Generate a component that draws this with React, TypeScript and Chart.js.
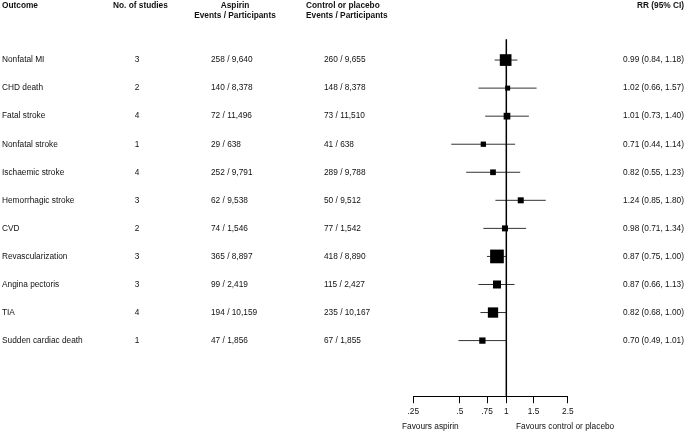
import React, { useEffect, useRef } from "react";
import { Chart, registerables } from "chart.js";

Chart.register(...registerables);

// ---------- data ----------
const outcomes = [
  "Nonfatal MI",
  "CHD death",
  "Fatal stroke",
  "Nonfatal stroke",
  "Ischaemic stroke",
  "Hemorrhagic stroke",
  "CVD",
  "Revascularization",
  "Angina pectoris",
  "TIA",
  "Sudden cardiac death",
];
const studies = [3, 2, 4, 1, 4, 3, 2, 3, 3, 4, 1];
const aspirinEvents = [
  "258 / 9,640",
  "140 / 8,378",
  "72 / 11,496",
  "29 / 638",
  "252 / 9,791",
  "62 / 9,538",
  "74 / 1,546",
  "365 / 8,897",
  "99 / 2,419",
  "194 / 10,159",
  "47 / 1,856",
];
const controlEvents = [
  "260 / 9,655",
  "148 / 8,378",
  "73 / 11,510",
  "41 / 638",
  "289 / 9,788",
  "50 / 9,512",
  "77 / 1,542",
  "418 / 8,890",
  "115 / 2,427",
  "235 / 10,167",
  "67 / 1,855",
];
const rr = [0.99, 1.02, 1.01, 0.71, 0.82, 1.24, 0.98, 0.87, 0.87, 0.82, 0.7];
const ciLow = [0.84, 0.66, 0.73, 0.44, 0.55, 0.85, 0.71, 0.75, 0.66, 0.68, 0.49];
const ciHigh = [1.18, 1.57, 1.4, 1.14, 1.23, 1.8, 1.34, 1.0, 1.13, 1.0, 1.01];
// relative study weights (drive square marker size)
const weights = [11.7, 5.0, 6.7, 5.3, 5.7, 6.0, 6.0, 13.7, 8.0, 10.3, 6.3];

const xTicks = [0.25, 0.5, 0.75, 1, 1.5, 2.5];
const xTickLabels = [".25", ".5", ".75", "1", "1.5", "2.5"];

const headerOutcome = "Outcome";
const headerStudies = "No. of studies";
const headerAspirin = ["Aspirin", "Events / Participants"];
const headerControl = ["Control or placebo", "Events / Participants"];
const headerRR = "RR (95% CI)";
const favoursLeft = "Favours aspirin";
const favoursRight = "Favours control or placebo";

// ---------- component ----------
export default function App() {
  const ref = useRef<HTMLCanvasElement | null>(null);

  useEffect(() => {
    document.body.style.margin = "0";
    const canvas = ref.current;
    if (!canvas) return;

    const FAMILY = '"Liberation Sans", Arial, Helvetica, sans-serif';
    const FS = 8.3;
    const TEXT = "#111";

    const fmt = (v: number) => v.toFixed(2);

    const forestPlugin = {
      id: "forestPlugin",
      beforeDatasetsDraw(chart: any) {
        const { ctx, scales } = chart;
        const x = scales.x;
        const y = scales.y;
        ctx.save();
        ctx.strokeStyle = "#333";
        ctx.lineWidth = 1;
        ciLow.forEach((lo, i) => {
          const py = y.getPixelForValue(i);
          ctx.beginPath();
          ctx.moveTo(x.getPixelForValue(lo), py);
          ctx.lineTo(x.getPixelForValue(ciHigh[i]), py);
          ctx.stroke();
        });
        ctx.restore();
      },
      afterDatasetsDraw(chart: any) {
        const { ctx, scales, chartArea } = chart;
        const px = scales.x.getPixelForValue(1);
        ctx.save();
        ctx.strokeStyle = "#000";
        ctx.lineWidth = 1.5;
        ctx.beginPath();
        ctx.moveTo(px, chartArea.top);
        ctx.lineTo(px, chartArea.bottom);
        ctx.stroke();
        ctx.restore();
      },
      afterDraw(chart: any) {
        const { ctx, scales } = chart;
        const y = scales.y;
        ctx.save();
        ctx.fillStyle = TEXT;
        ctx.textBaseline = "middle";

        // headers
        ctx.font = `bold ${FS}px ${FAMILY}`;
        const h1 = 6;
        const h2 = 16;
        ctx.textAlign = "left";
        ctx.fillText(headerOutcome, 2, h1);
        ctx.fillText(headerStudies, 113, h1);
        ctx.textAlign = "center";
        ctx.fillText(headerAspirin[0], 235, h1);
        ctx.fillText(headerAspirin[1], 235, h2);
        ctx.textAlign = "left";
        ctx.fillText(headerControl[0], 306, h1);
        ctx.fillText(headerControl[1], 306, h2);
        ctx.textAlign = "right";
        ctx.fillText(headerRR, 684, h1);

        // rows
        ctx.font = `${FS}px ${FAMILY}`;
        outcomes.forEach((name, i) => {
          const py = y.getPixelForValue(i);
          ctx.textAlign = "left";
          ctx.fillText(name, 2, py);
          ctx.textAlign = "center";
          ctx.fillText(String(studies[i]), 137, py);
          ctx.textAlign = "left";
          ctx.fillText(aspirinEvents[i], 211, py);
          ctx.fillText(controlEvents[i], 324, py);
          ctx.textAlign = "right";
          ctx.fillText(
            `${fmt(rr[i])} (${fmt(ciLow[i])}, ${fmt(ciHigh[i])})`,
            684,
            py
          );
        });

        // favours labels
        ctx.textAlign = "left";
        ctx.fillText(favoursLeft, 402, 427);
        ctx.fillText(favoursRight, 516, 427);
        ctx.restore();
      },
    };

    const chart = new Chart(canvas, {
      type: "scatter",
      data: {
        datasets: [
          {
            data: rr.map((v, i) => ({ x: v, y: i })),
            pointStyle: "rect",
            pointRadius: weights.map((w) => w / Math.SQRT2),
            pointHoverRadius: weights.map((w) => w / Math.SQRT2),
            backgroundColor: "#000",
            borderWidth: 0,
            clip: false as any,
          },
        ],
      },
      options: {
        responsive: false,
        animation: false,
        devicePixelRatio: window.devicePixelRatio || 1,
        layout: {
          padding: { left: 413.3, right: 117.2, top: 39.3, bottom: 0 },
        },
        plugins: {
          legend: { display: false },
          tooltip: { enabled: false },
        },
        events: [],
        scales: {
          x: {
            type: "logarithmic",
            min: xTicks[0],
            max: xTicks[xTicks.length - 1],
            bounds: "data",
            afterBuildTicks: (scale: any) => {
              scale.ticks = xTicks.map((v) => ({ value: v }));
            },
            afterFit: (scale: any) => {
              scale.height = 36.3;
            },
            grid: {
              drawOnChartArea: false,
              drawTicks: true,
              tickLength: 6.5,
              color: "#000",
              lineWidth: 1,
            },
            border: { display: true, color: "#000", width: 1 },
            ticks: {
              autoSkip: false,
              maxRotation: 0,
              padding: 4,
              color: TEXT,
              font: { family: FAMILY, size: FS },
              callback: (value: any) => {
                const idx = xTicks.indexOf(Number(value));
                return idx >= 0 ? xTickLabels[idx] : "";
              },
            },
          },
          y: {
            type: "linear",
            display: false,
            reverse: true,
            min: -0.74,
            max: 12.0,
          },
        },
      } as any,
      plugins: [forestPlugin],
    });

    return () => chart.destroy();
  }, []);

  return (
    <canvas
      ref={ref}
      width={685}
      height={433}
      style={{ display: "block", width: 685, height: 433 }}
    />
  );
}
